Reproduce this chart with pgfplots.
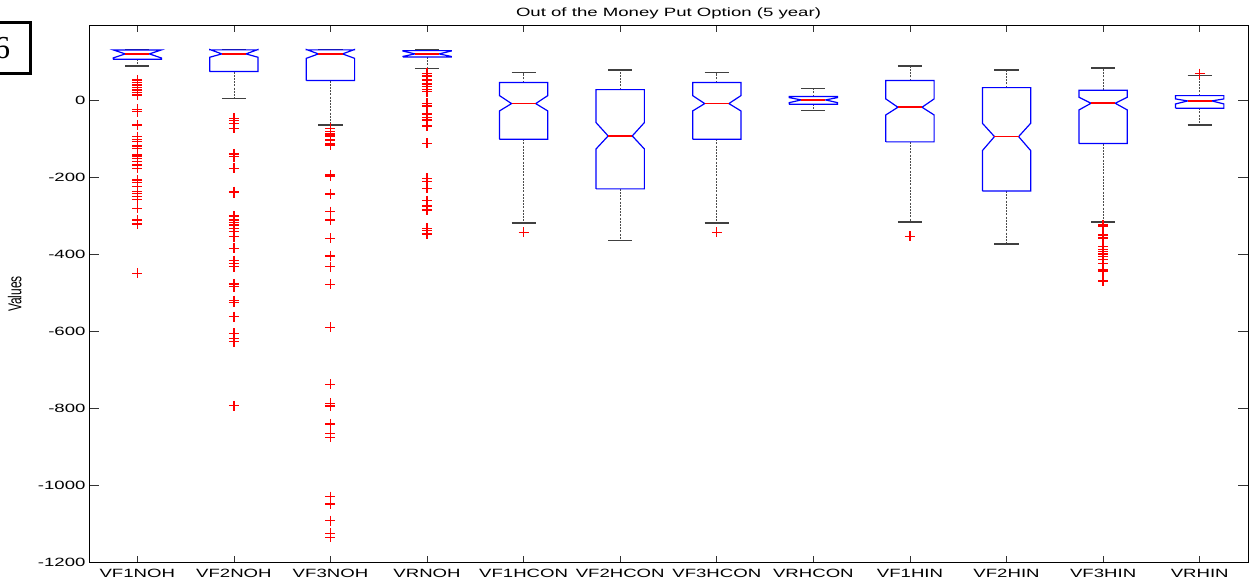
\documentclass[border=0pt]{standalone}
\usepackage{fontspec}
\setmainfont{Liberation Sans}[FakeStretch=1.55]
\newfontfamily\plainsans{Liberation Sans}
\newfontfamily\labelserif{Liberation Serif}
\usepackage{graphicx}
\usepackage{pgfplots}
\pgfplotsset{compat=1.18}

\definecolor{boxblue}{RGB}{0,0,255}
\definecolor{medred}{RGB}{255,0,0}

\pgfplotsset{
  boxline/.style={boxblue, line width=1.2bp, mark=none},
  whisk/.style={black!70, line width=0.7bp, dash pattern=on 2bp off 1.2bp, mark=none},
  capline/.style={black!75, line width=1.2bp, mark=none},
  medline/.style={medred, line width=1.5bp, mark=none},
  outl/.style={only marks, mark=+, mark size=5bp, color=medred, mark options={line width=1.4bp, draw=medred}},
}

% notched box: #1 position, #2 lower whisker, #3 Q1, #4 notch low,
% #5 median, #6 notch high, #7 Q3, #8 upper whisker
\newcommand\notchbox[8]{%
  \pgfmathsetmacro\xl{#1-0.25}%
  \pgfmathsetmacro\xr{#1+0.25}%
  \pgfmathsetmacro\xil{#1-0.125}%
  \pgfmathsetmacro\xir{#1+0.125}%
  \edef\tmp{%
    \noexpand\addplot[whisk] coordinates {(#1,#7) (#1,#8)};%
    \noexpand\addplot[whisk] coordinates {(#1,#3) (#1,#2)};%
    \noexpand\addplot[capline] coordinates {(\xil,#8) (\xir,#8)};%
    \noexpand\addplot[capline] coordinates {(\xil,#2) (\xir,#2)};%
    \noexpand\addplot[boxline] coordinates {(\xl,#3) (\xl,#4) (\xil,#5) (\xl,#6) (\xl,#7) (\xr,#7) (\xr,#6) (\xir,#5) (\xr,#4) (\xr,#3) (\xl,#3)};%
    \noexpand\addplot[medline] coordinates {(\xil,#5) (\xir,#5)};%
  }\tmp}

\begin{document}
\begin{tikzpicture}
\useasboundingbox (0,0) rectangle (1254bp,582bp);
\begin{axis}[
  at={(89bp,20bp)}, anchor=south west,
  scale only axis, width=1159bp, height=536bp,
  xmin=0.5, xmax=12.5, ymin=-1200, ymax=192,
  xtick={1,...,12},
  xticklabels={VF1NOH,VF2NOH,VF3NOH,VRNOH,VF1HCON,VF2HCON,VF3HCON,VRHCON,VF1HIN,VF2HIN,VF3HIN,VRHIN},
  ytick={-1200,-1000,-800,-600,-400,-200,0},
  tick align=inside, tick pos=both,
  xtick style={black!80, line width=0.7bp, /pgfplots/major tick length=6bp},
  ytick style={black!80, line width=0.7bp, /pgfplots/major tick length=10bp},
  axis line style={black, line width=1bp},
  /pgf/number format/assume math mode=true,
  /pgf/number format/1000 sep={},
  ticklabel style={font=\fontsize{12bp}{14bp}\selectfont},
  xticklabel style={anchor=base, yshift=-15bp},
  title={Out of the Money Put Option (5 year)},
  title style={font=\fontsize{12bp}{14bp}\selectfont, at={(0.5,1)}, anchor=base, yshift=3.5bp},
  ylabel={\scalebox{1}[1.55]{Values}},
  ylabel style={font=\plainsans\fontsize{12bp}{14bp}\selectfont, at={(axis description cs:-0.064,0.5)}, anchor=center},
]
% position, lower whisker, Q1, notch low, median, notch high, Q3, upper whisker
\notchbox{1}{88.3}{105.6}{109}{119.5}{129.9}{129.9}{131.6}
\notchbox{2}{3.5}{73.6}{110.8}{119.5}{131}{130}{131.6}
\notchbox{3}{-64.9}{50.2}{108}{119.5}{131}{130}{131.6}
\notchbox{4}{82.3}{111.7}{113}{119.5}{127}{128}{131.6}
\notchbox{5}{-319.5}{-102}{-28.6}{-9.5}{11.2}{45}{70.9}
\notchbox{6}{-365.4}{-231}{-127.3}{-93.5}{-58.9}{26.8}{77.9}
\notchbox{7}{-319.5}{-102}{-28.6}{-9.5}{11.2}{45}{70.9}
\notchbox{8}{-26.8}{-11.3}{-7}{0}{6}{8.7}{29.4}
\notchbox{9}{-316.9}{-109}{-39}{-19}{2.6}{50.2}{88.3}
\notchbox{10}{-374}{-236.4}{-131.6}{-95.2}{-60.6}{32}{77.9}
\notchbox{11}{-316.9}{-113.4}{-26}{-8.6}{7}{25.1}{83.1}
\notchbox{12}{-64.9}{-21.6}{-10.4}{-2.6}{2.6}{11.2}{63}

% outliers
\addplot[outl] coordinates {
 (1,51.9) (1,45) (1,39) (1,32) (1,26) (1,19) (1,13) (1,-24.2) (1,-30.3)
 (1,-64.9) (1,-95.2) (1,-102.1) (1,-108.2) (1,-119.5) (1,-125.5) (1,-142.8)
 (1,-147.2) (1,-152.4) (1,-160.1) (1,-168.8) (1,-177.5) (1,-207.8) (1,-214.7)
 (1,-225.1) (1,-238) (1,-242.4) (1,-251.1) (1,-258) (1,-281.3) (1,-311.7)
 (1,-322) (1,-450.1)};
\addplot[outl] coordinates {
 (2,-47.6) (2,-53.7) (2,-60.6) (2,-73.6) (2,-140.3) (2,-147.2) (2,-177.5)
 (2,-238) (2,-240.7) (2,-301) (2,-311.7) (2,-318.6) (2,-324.7) (2,-333.3)
 (2,-342) (2,-355) (2,-385.3) (2,-417.3) (2,-424.2) (2,-432.9) (2,-478)
 (2,-485) (2,-521) (2,-526) (2,-562.8) (2,-606) (2,-619) (2,-627.7) (2,-793.9)};
\addplot[outl] coordinates {
 (3,-73.6) (3,-82.3) (3,-86.6) (3,-90.9) (3,-95.2) (3,-103.9) (3,-112.6)
 (3,-116.9) (3,-194.8) (3,-197.4) (3,-244.2) (3,-290) (3,-311.7) (3,-359.3)
 (3,-405.2) (3,-432.9) (3,-479) (3,-590.5) (3,-738.5) (3,-787.9) (3,-794.8)
 (3,-841.6) (3,-865.8) (3,-876.2) (3,-1030) (3,-1049.4) (3,-1092.6)
 (3,-1125.5) (3,-1135.8)};
\addplot[outl] coordinates {
 (4,69.3) (4,62.3) (4,51.9) (4,41.6) (4,34.6) (4,27.8) (4,21.6) (4,-8.7)
 (4,-15.6) (4,-36.4) (4,-45) (4,-51.9) (4,-67.5) (4,-112.6) (4,-203.4)
 (4,-212.1) (4,-229.4) (4,-261.4) (4,-275.3) (4,-285.7) (4,-333.3)
 (4,-339.4) (4,-348)};
\addplot[outl] coordinates {(5,-343.6) (7,-343.6) (9,-354) (12,68)};
\addplot[outl] coordinates {
 (11,-324.7) (11,-329) (11,-350.6) (11,-356.7) (11,-359.3) (11,-380.9)
 (11,-387.9) (11,-393.9) (11,-400) (11,-406.9) (11,-413.8) (11,-424.2)
 (11,-441.6) (11,-444.2) (11,-470)};
\end{axis}
\node[draw, line width=3bp, minimum width=56bp, minimum height=51bp, inner sep=0pt,
      font=\labelserif\fontsize{32bp}{32bp}\selectfont] at (2bp,533.5bp) {6};
\end{tikzpicture}
\end{document}
